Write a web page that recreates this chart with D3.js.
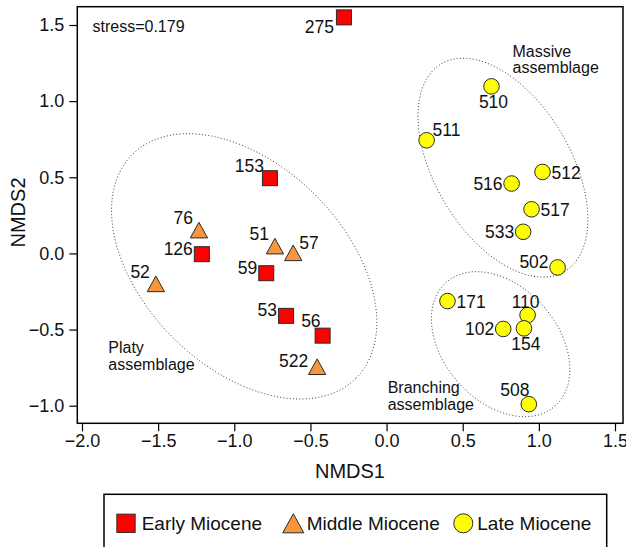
<!DOCTYPE html>
<html>
<head>
<meta charset="utf-8">
<script src="https://cdn.jsdelivr.net/npm/d3@7"></script>
<style>
  html, body { margin: 0; padding: 0; background: #fff; }
  svg { display: block; font-family: "Liberation Sans", Arial, Helvetica, sans-serif; }
</style>
</head>
<body>
<svg id="chart" width="626" height="547"></svg>
<script>
// NMDS site scores, one set of arrays per period
const earlySites = ["275", "153", "126", "59", "53", "56"];
const earlyNMDS1 = [-0.28, -0.766, -1.213, -0.79, -0.66, -0.42];
const earlyNMDS2 = [1.55, 0.494, -0.005, -0.13, -0.41, -0.54];
const earlyLabelPos = ["bl", "ul", "lh", "lh", "lh", "ult"];

const middleSites = ["76", "51", "57", "52", "522"];
const middleNMDS1 = [-1.232, -0.733, -0.613, -1.515, -0.456];
const middleNMDS2 = [0.153, 0.048, 0.004, -0.20, -0.744];
const middleLabelPos = ["ul", "ul", "ur", "ul", "lh"];

const lateSites = ["510", "511", "512", "516", "517", "533", "502", "171", "110", "102", "154", "508"];
const lateNMDS1 = [0.689, 0.263, 1.024, 0.821, 0.952, 0.897, 1.123, 0.40, 0.926, 0.766, 0.902, 0.934];
const lateNMDS2 = [1.097, 0.743, 0.535, 0.459, 0.29, 0.142, -0.092, -0.313, -0.405, -0.496, -0.492, -0.99];
const lateLabelPos = ["b", "ur", "r", "l", "r", "l", "lh", "r", "t", "l", "b", "tl"];

const periods = ["Early Miocene", "Middle Miocene", "Late Miocene"];

// Assemblage envelopes in NMDS units: centre, semi-axes, rotation (degrees)
const assemblageNames = ["Platy", "Massive", "Branching"];
const assemblageCx = [-0.935, 0.764, 0.749];
const assemblageCy = [-0.085, 0.563, -0.596];
const assemblageA = [1.039, 0.793, 0.541];
const assemblageB = [0.662, 0.446, 0.375];
const assemblageAngle = [-45, -59.3, -48.8];

const xTicks = [-2.0, -1.5, -1.0, -0.5, 0.0, 0.5, 1.0, 1.5];
const yTicks = [-1.0, -0.5, 0.0, 0.5, 1.0, 1.5];
const stressValue = 0.179;

// ---------------------------------------------------------------
const svg = d3.select("#chart");
const box = { left: 77.3, right: 623, top: 6.7, bottom: 423.3 };

const x = d3.scaleLinear().domain([-2, 1.5]).range([82, 615]);
const y = d3.scaleLinear().domain([-1, 1.5]).range([405.7, 25]);

const fmt = v => d3.format(".1f")(v).replace("-", "\u2212");

const FILL = { "Early Miocene": "#FF0000", "Middle Miocene": "#F7963C", "Late Miocene": "#FFFF00" };
const EDGE = "#2a2a2a";

// label placement: [text-anchor, dx, dy(baseline)]
const PLACE = {
  l:   ["end", -9, 6.5],
  lh:  ["end", -9, 0.5],
  ul:  ["end", -6, -6],
  ult: ["end", -2, -9],
  bl:  ["end", -10, 15.5],
  b:   ["middle", 2, 22],
  t:   ["middle", -2, -7],
  tl:  ["middle", -14, -8.5],
  r:   ["start", 9, 7],
  ur:  ["start", 6, -4]
};

// ellipse envelopes
const ellipseLine = d3.line().x(d => x(d[0])).y(d => y(d[1])).curve(d3.curveLinearClosed);
assemblageNames.forEach((name, i) => {
  const phi = assemblageAngle[i] * Math.PI / 180;
  const pts = d3.range(0, 360, 2).map(deg => {
    const t = deg * Math.PI / 180;
    const u = assemblageA[i] * Math.cos(t), v = assemblageB[i] * Math.sin(t);
    return [assemblageCx[i] + u * Math.cos(phi) - v * Math.sin(phi),
            assemblageCy[i] + u * Math.sin(phi) + v * Math.cos(phi)];
  });
  svg.append("path")
    .attr("d", ellipseLine(pts))
    .attr("fill", "none")
    .attr("stroke", "#3a3a3a")
    .attr("stroke-width", 1)
    .attr("stroke-dasharray", "1 2.2");
});

// assemblage captions
const captions = [
  { lines: ["Massive", "assemblage"], x: 512.5, y: 56.7 },
  { lines: ["Platy", "assemblage"], x: 108.3, y: 353 },
  { lines: ["Branching", "assemblage"], x: 387.7, y: 393.3 }
];
captions.forEach(c => {
  const t = svg.append("text").attr("x", c.x).attr("y", c.y)
    .attr("font-size", 16).attr("fill", "#111");
  c.lines.forEach((ln, k) => t.append("tspan").attr("x", c.x).attr("dy", k === 0 ? 0 : 16.5).text(ln));
});

// plot frame
svg.append("rect")
  .attr("x", box.left).attr("y", box.top)
  .attr("width", box.right - box.left).attr("height", box.bottom - box.top)
  .attr("fill", "none").attr("stroke", "#000").attr("stroke-width", 1.5);

// axes
const xAxis = svg.append("g").attr("transform", `translate(0,${box.bottom})`)
  .call(d3.axisBottom(x).tickValues(xTicks).tickFormat(fmt).tickSize(8).tickPadding(3));
const yAxis = svg.append("g").attr("transform", `translate(${box.left},0)`)
  .call(d3.axisLeft(y).tickValues(yTicks).tickFormat(fmt).tickSize(8).tickPadding(5));
[xAxis, yAxis].forEach(g => {
  g.select(".domain").remove();
  g.selectAll(".tick line").attr("stroke", "#000").attr("stroke-width", 1.2);
  g.selectAll(".tick text").attr("font-size", 18).attr("fill", "#111")
    .attr("font-family", "Liberation Sans, Arial, sans-serif");
});

svg.append("text").attr("x", 350).attr("y", 478).attr("text-anchor", "middle")
  .attr("font-size", 20).attr("fill", "#111").text("NMDS1");
svg.append("text").attr("transform", "translate(25,212.5) rotate(-90)").attr("text-anchor", "middle")
  .attr("font-size", 20).attr("fill", "#111").text("NMDS2");

svg.append("text").attr("x", 92.5).attr("y", 31.5).attr("font-size", 16).attr("fill", "#111")
  .text("stress=" + stressValue);

// marker shapes
const symbol = {
  "Early Miocene": d3.symbol().type(d3.symbolSquare),
  "Middle Miocene": d3.symbol().type(d3.symbolTriangle),
  "Late Miocene": d3.symbol().type(d3.symbolCircle)
};
function marker(g, period, cx, cy, scale) {
  if (period === "Early Miocene") {
    const s = 15 * scale;
    g.append("rect").attr("x", cx - s / 2).attr("y", cy - s / 2).attr("width", s).attr("height", s)
      .attr("fill", FILL[period]).attr("stroke", EDGE).attr("stroke-width", 1);
  } else if (period === "Middle Miocene") {
    const w = 17.3 * scale, h = 15.6 * scale;
    g.append("path")
      .attr("d", `M${cx},${cy - h / 2}L${cx + w / 2},${cy + h / 2}L${cx - w / 2},${cy + h / 2}Z`)
      .attr("fill", FILL[period]).attr("stroke", EDGE).attr("stroke-width", 1);
  } else {
    g.append("circle").attr("cx", cx).attr("cy", cy).attr("r", 7.8 * scale)
      .attr("fill", FILL[period]).attr("stroke", EDGE).attr("stroke-width", 1);
  }
}

const series = [
  { period: periods[0], sites: earlySites, xs: earlyNMDS1, ys: earlyNMDS2, pos: earlyLabelPos },
  { period: periods[1], sites: middleSites, xs: middleNMDS1, ys: middleNMDS2, pos: middleLabelPos },
  { period: periods[2], sites: lateSites, xs: lateNMDS1, ys: lateNMDS2, pos: lateLabelPos }
];

const pointsG = svg.append("g");
const labelsG = svg.append("g").attr("font-size", 17.5).attr("fill", "#111");
series.forEach(s => {
  s.sites.forEach((site, i) => {
    const px = x(s.xs[i]), py = y(s.ys[i]);
    marker(pointsG, s.period, px, py, 1);
    const [anchor, dx, dy] = PLACE[s.pos[i]];
    labelsG.append("text").attr("x", px + dx).attr("y", py + dy)
      .attr("text-anchor", anchor).text(site);
  });
});

// legend
const legend = svg.append("g");
legend.append("rect").attr("x", 104).attr("y", 494.3).attr("width", 502.7).attr("height", 70)
  .attr("fill", "#fff").attr("stroke", "#000").attr("stroke-width", 1.5);
const legendItems = [
  { period: periods[0], mx: 126, tx: 141.7 },
  { period: periods[1], mx: 293.3, tx: 306.7 },
  { period: periods[2], mx: 463.3, tx: 477.3 }
];
legendItems.forEach(it => {
  marker(legend, it.period, it.mx, 523.3, 1.22);
  legend.append("text").attr("x", it.tx).attr("y", 530).attr("font-size", 19).attr("fill", "#111")
    .text(it.period);
});
</script>
</body>
</html>
